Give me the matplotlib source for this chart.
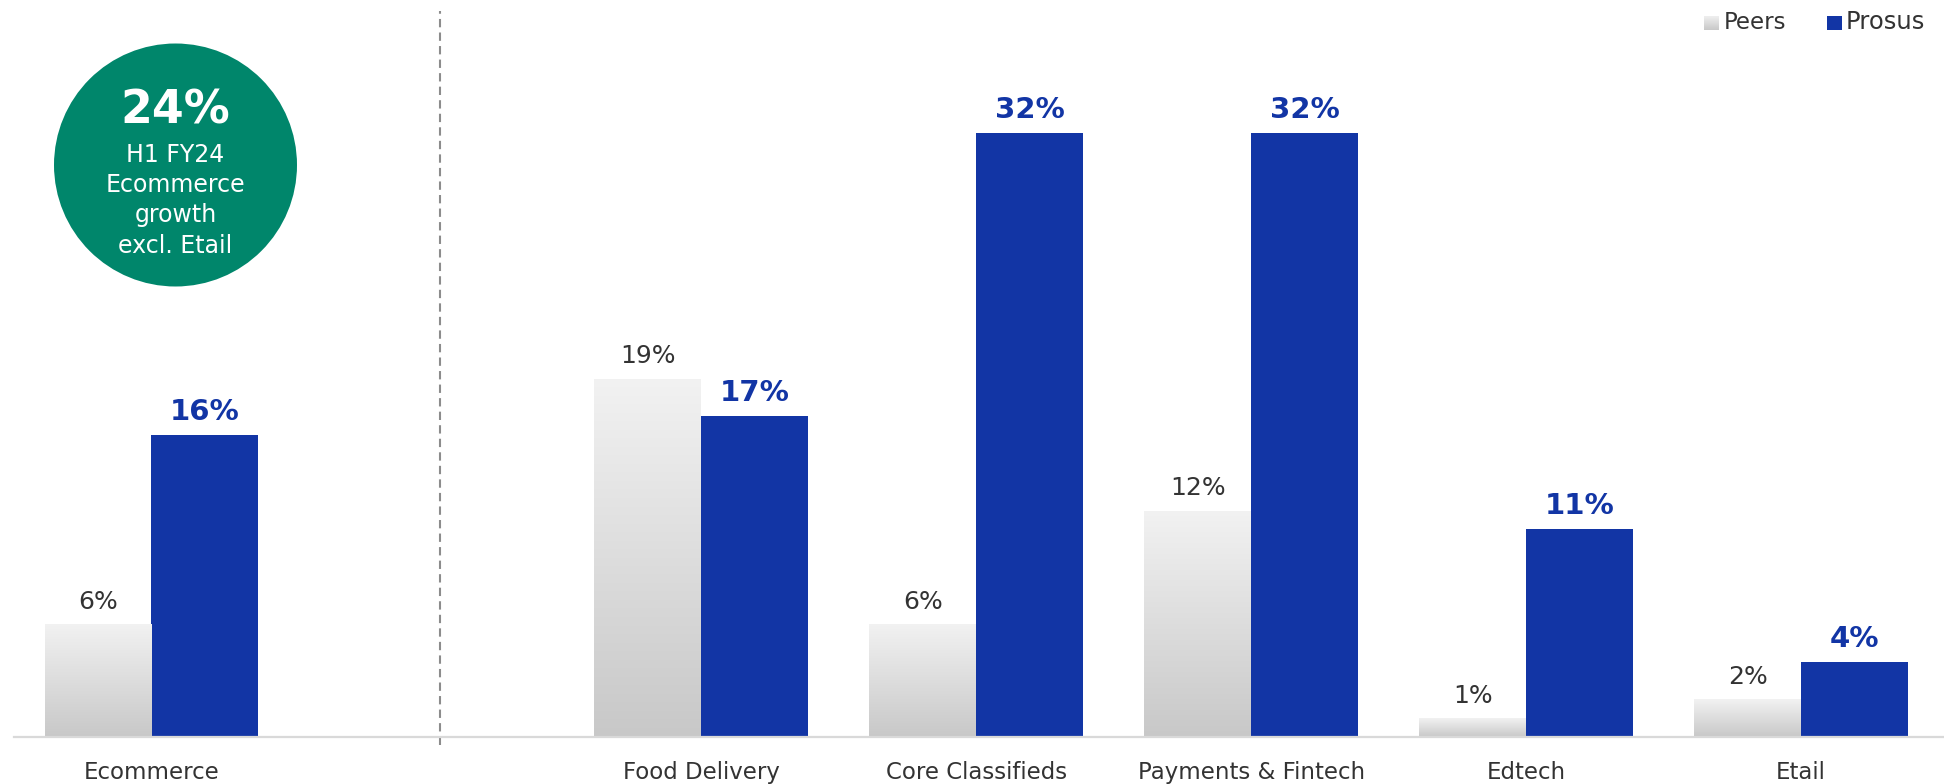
import numpy as np
import matplotlib
matplotlib.use("Agg")
import matplotlib.pyplot as plt
from matplotlib.patches import Ellipse, Rectangle
from matplotlib.colors import LinearSegmentedColormap

plt.rcParams['font.family'] = ['DejaVu Sans']

# ---- data ----
categories = ["Ecommerce", "Food Delivery", "Core Classifieds", "Payments & Fintech", "Edtech", "Etail"]
peers = [6, 19, 6, 12, 1, 2]
prosus = [16, 17, 32, 32, 11, 4]
series_names = ["Peers", "Prosus"]
circle_value = "24%"
circle_lines = ["H1 FY24", "Ecommerce", "growth", "excl. Etail"]

# ---- layout / style ----
W, H = 1944, 784
positions = np.array([0, 2, 3, 4, 5, 6], dtype=float)
bw = 0.389
blue = "#1235A5"
green = "#00866B"
txt = "#333333"

fig = plt.figure(figsize=(W / 100, H / 100), dpi=100)
ax = fig.add_axes([14 / W, 47 / H, 1 - 14 / W, 737 / H])
ax.set_xlim(-0.5, 6.52)
ax.set_ylim(0, 39.06)

pb = ax.bar(positions - bw, peers, bw, align="edge", color="none", linewidth=0)
rb = ax.bar(positions, prosus, bw, align="edge", color=blue, linewidth=0)

cmap = LinearSegmentedColormap.from_list("g", ["#c8c8c8", "#f2f2f2"])
grad = np.linspace(0, 1, 256).reshape(-1, 1)
for p in pb.patches:
    x, y, w, h = p.get_x(), p.get_y(), p.get_width(), p.get_height()
    im = ax.imshow(grad, cmap=cmap, origin="lower", aspect="auto",
                   extent=[x, x + w, y, y + h], zorder=1)
    im.set_clip_path(p)
ax.set_xlim(-0.5, 6.52)
ax.set_ylim(0, 39.06)

for p, v in zip(pb.patches, peers):
    ax.annotate(f"{v}%", (p.get_x() + p.get_width() / 2, p.get_height()),
                xytext=(0, 11), textcoords="offset points", ha="center",
                va="baseline", fontsize=18, color=txt)
for p, v in zip(rb.patches, prosus):
    ax.annotate(f"{v}%", (p.get_x() + p.get_width() / 2, p.get_height()),
                xytext=(0, 10.8), textcoords="offset points", ha="center",
                va="baseline", fontsize=21, color=blue, fontweight="bold")

for s in ["top", "right", "left"]:
    ax.spines[s].set_visible(False)
ax.spines["bottom"].set_color("#d9d9d9")
ax.spines["bottom"].set_linewidth(1.6)
ax.set_yticks([])
ax.set_xticks(positions)
ax.set_xticklabels(categories, fontsize=16.5, color=txt)
ax.tick_params(axis="x", length=0, pad=17)

# dashed separator
ax.plot([1.05, 1.05], [-0.42, 38.5], color="#8c8c8c", lw=1.5,
        linestyle=(0, (4, 2.5)), clip_on=False, zorder=0)

# circle
cx, cy, r = 175.5, 165, 121.5
fig.patches.append(Ellipse((cx / W, 1 - cy / H), 2 * r / W, 2 * r / H,
                           transform=fig.transFigure, facecolor=green,
                           edgecolor="none"))
fig.text(cx / W, 1 - 123.3 / H, circle_value, ha="center", va="baseline",
         fontsize=33, fontweight="bold", color="white")
for i, line in enumerate(circle_lines):
    fig.text(cx / W, 1 - (161.7 + 30.3 * i) / H, line, ha="center",
             va="baseline", fontsize=17, color="white")

# legend (manual)
lax = fig.add_axes([1704 / W, 1 - 30 / H, 15 / W, 14 / H])
lax.imshow(grad, cmap=cmap, origin="lower", aspect="auto")
lax.axis("off")
fig.patches.append(Rectangle((1827 / W, 1 - 30 / H), 15 / W, 14 / H,
                             transform=fig.transFigure, facecolor=blue,
                             edgecolor="none"))
fig.text(1724 / W, 1 - 29.3 / H, series_names[0], ha="left", va="baseline",
         fontsize=16.5, color=txt)
fig.text(1846 / W, 1 - 29.3 / H, series_names[1], ha="left", va="baseline",
         fontsize=17.5, color=txt)

fig.savefig("out.png", dpi=100)
